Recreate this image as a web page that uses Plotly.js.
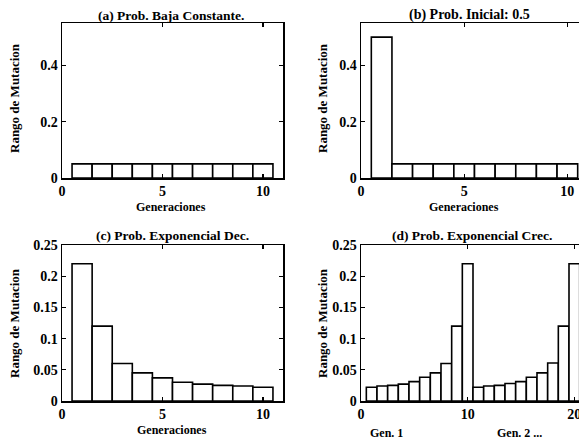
<!DOCTYPE html>
<html><head><meta charset="utf-8">
<script src="https://cdn.plot.ly/plotly-3.0.1.min.js"></script>
<style>html,body{margin:0;padding:0;overflow:hidden;background:#fff;width:579px;height:443px}</style>
</head><body><div id="chart" style="width:600px;height:443px"></div>
<script>
// Data
const genA = [1,2,3,4,5,6,7,8,9,10];
const valsA = [0.05,0.05,0.05,0.05,0.05,0.05,0.05,0.05,0.05,0.05];
const genB = [1,2,3,4,5,6,7,8,9,10];
const valsB = [0.5,0.05,0.05,0.05,0.05,0.05,0.05,0.05,0.05,0.05];
const genC = [1,2,3,4,5,6,7,8,9,10];
const valsC = [0.22,0.12,0.06,0.045,0.037,0.03,0.027,0.025,0.024,0.022];
const genD = [1,2,3,4,5,6,7,8,9,10,11,12,13,14,15,16,17,18,19,20];
const valsD = [0.022,0.024,0.025,0.027,0.031,0.038,0.045,0.06,0.12,0.22,
               0.022,0.024,0.025,0.028,0.031,0.038,0.045,0.061,0.12,0.22];
const titles = ["(a) Prob. Baja Constante.","(b) Prob. Inicial: 0.5","(c) Prob. Exponencial Dec.","(d) Prob. Exponencial Crec."];
const yTitle = "Rango de Mutacion";
const xTitle = "Generaciones";
const xTitleD = ["Gen. 1","Gen. 2 ..."];

const FONT = "Liberation Serif, Times New Roman, serif";
const W = 600, H = 443;
const px = v => v / W, py = v => 1 - v / H;

function bar(x, y, xa, ya) {
  return {type:'bar', x:x, y:y, xaxis:xa, yaxis:ya, width:1,
    marker:{color:'#fff', line:{color:'#000', width:1.6}}, hoverinfo:'skip'};
}
const traces = [bar(genA,valsA,'x','y'), bar(genB,valsB,'x2','y2'),
                bar(genC,valsC,'x3','y3'), bar(genD,valsD,'x4','y4')];

function ax(domain, range, dtick, extra) {
  return Object.assign({domain:domain, range:range, dtick:dtick, tick0:0,
    showgrid:false, zeroline:false, showline:true, linecolor:'#000', linewidth:1.5,
    mirror:'allticks', ticks:'inside', ticklen:4, tickcolor:'#000', tickwidth:1.2,
    tickfont:{family:FONT, size:14, color:'#000', weight:'bold'}, fixedrange:true}, extra||{});
}
const xdL = [px(62), px(283)], xdB = [px(361), px(588)], xdD = [px(361), px(585)];
const ydT = [py(178), py(23)], ydB = [py(401), py(245)];

const layout = {
  width:W, height:H, margin:{l:0,r:0,t:0,b:0,pad:0},
  paper_bgcolor:'#fff', plot_bgcolor:'#fff', showlegend:false, bargap:0,
  xaxis: ax(xdL,[0,11],5,{anchor:'y'}),
  yaxis: ax(ydT,[0,0.55],0.2,{anchor:'x'}),
  xaxis2: ax(xdB,[0,11],5,{anchor:'y2'}),
  yaxis2: ax(ydT,[0,0.55],0.2,{anchor:'x2'}),
  xaxis3: ax(xdL,[0,11],5,{anchor:'y3'}),
  yaxis3: ax(ydB,[0,0.25],0.05,{anchor:'x3'}),
  xaxis4: ax(xdD,[0,21],10,{anchor:'y4'}),
  yaxis4: ax(ydB,[0,0.25],0.05,{anchor:'x4'}),
  annotations: []
};
const ann = (text, x, y, size, opts) => Object.assign({text:text, x:x, y:y, xref:'paper', yref:'paper',
  showarrow:false, xanchor:'center', yanchor:'middle',
  font:{family:FONT, size:size, color:'#000', weight:'bold'}}, opts||{});
// subplot titles
layout.annotations.push(ann(titles[0], px(171), py(15), 13.5));
layout.annotations.push(ann(titles[1], px(469), py(15), 14));
layout.annotations.push(ann(titles[2], px(172), py(236), 13.5));
layout.annotations.push(ann(titles[3], px(472), py(236), 13.5));
// y titles
layout.annotations.push(ann(yTitle, px(14), py(98), 13, {textangle:-90}));
layout.annotations.push(ann(yTitle, px(322), py(98), 13, {textangle:-90}));
layout.annotations.push(ann(yTitle, px(14), py(323), 13, {textangle:-90}));
layout.annotations.push(ann(yTitle, px(322), py(323), 13, {textangle:-90}));
// x titles
layout.annotations.push(ann(xTitle, px(171), py(207), 12));
layout.annotations.push(ann(xTitle, px(464), py(207), 12));
layout.annotations.push(ann(xTitle, px(172), py(430), 12));
layout.annotations.push(ann(xTitleD[0], px(386), py(433), 12));
layout.annotations.push(ann(xTitleD[1], px(519), py(433), 12));

Plotly.newPlot('chart', traces, layout, {staticPlot:true});
</script></body></html>
